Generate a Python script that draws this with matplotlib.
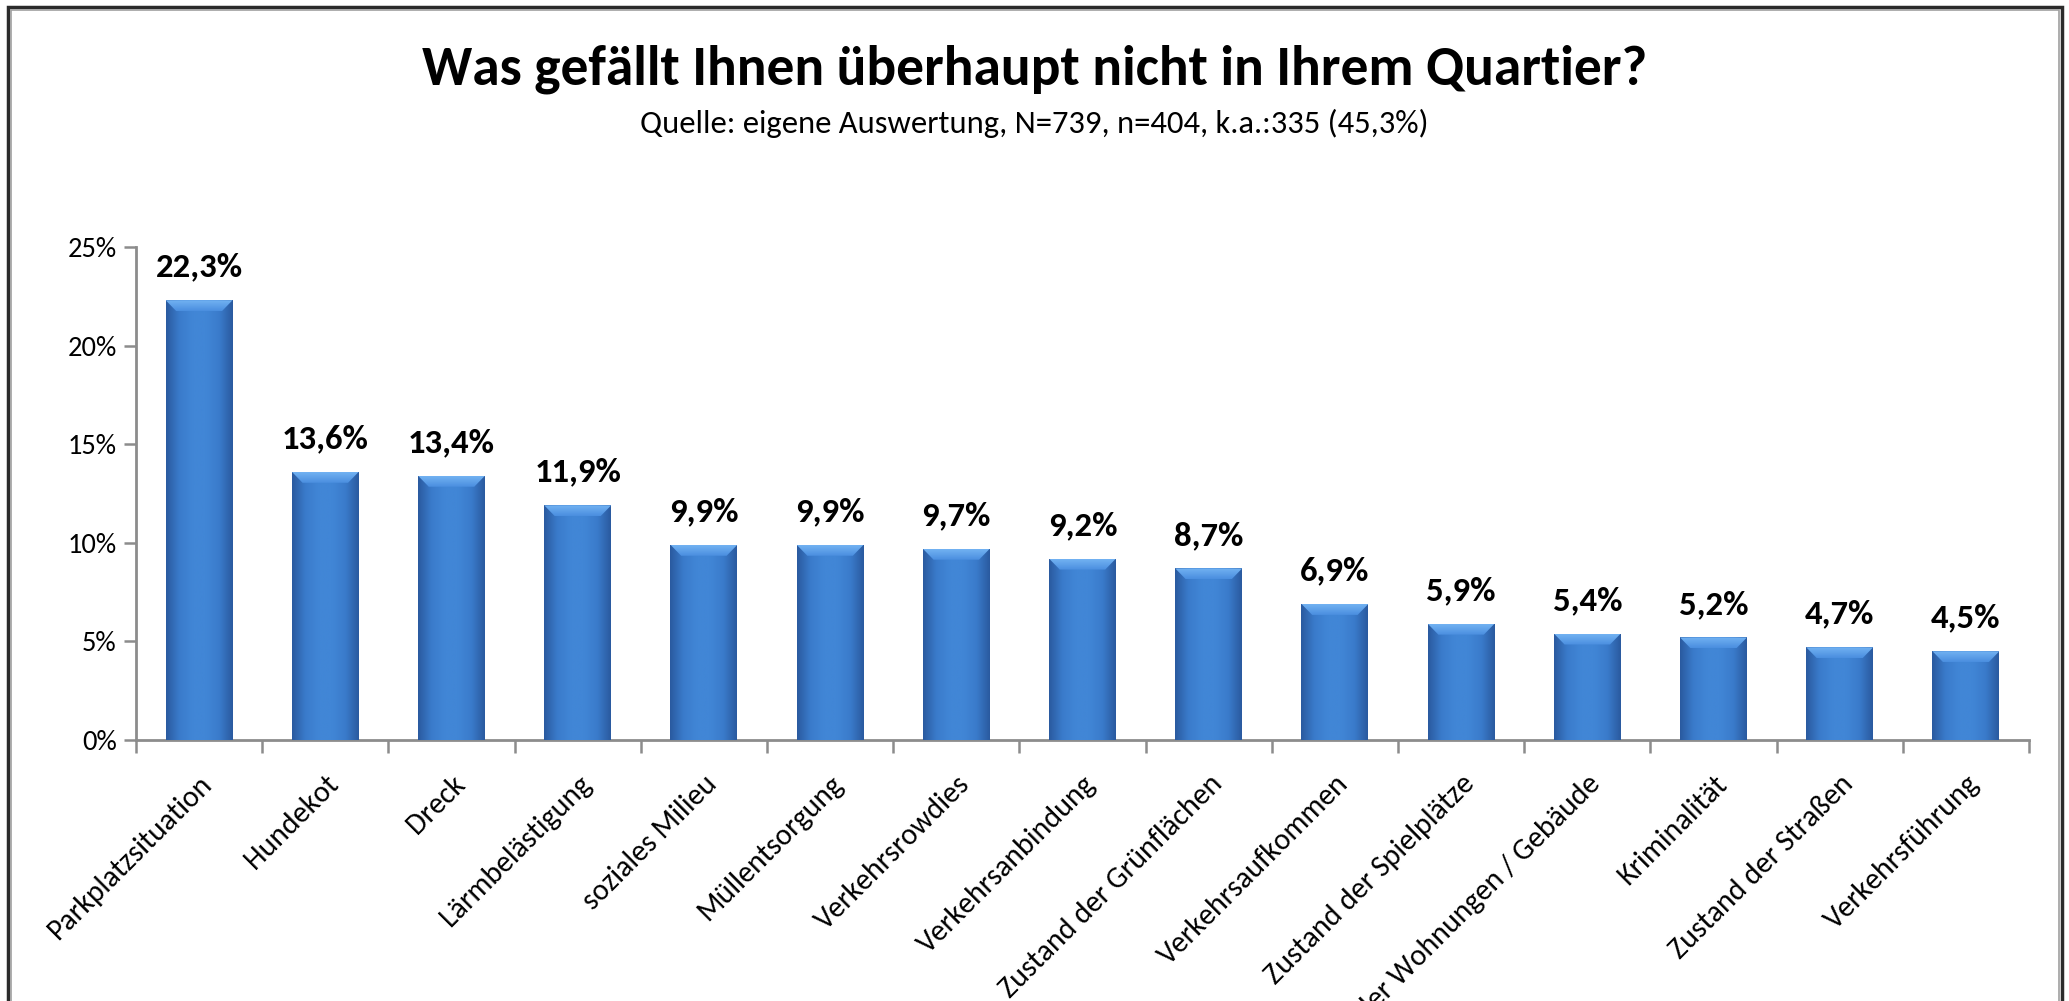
import matplotlib
matplotlib.use("Agg")
import numpy as np
import matplotlib.pyplot as plt
from matplotlib.patches import Rectangle, Polygon
from matplotlib.colors import LinearSegmentedColormap

plt.rcParams['font.family'] = ['Carlito', 'DejaVu Sans']

categories = ['Parkplatzsituation', 'Hundekot', 'Dreck', 'Lärmbelästigung', 'soziales Milieu',
              'Müllentsorgung', 'Verkehrsrowdies', 'Verkehrsanbindung', 'Zustand der Grünflächen',
              'Verkehrsaufkommen', 'Zustand der Spielplätze', 'Zustand der Wohnungen / Gebäude',
              'Kriminalität', 'Zustand der Straßen', 'Verkehrsführung']
values = [22.3, 13.6, 13.4, 11.9, 9.9, 9.9, 9.7, 9.2, 8.7, 6.9, 5.9, 5.4, 5.2, 4.7, 4.5]
yticks = [0, 5, 10, 15, 20, 25]

title = 'Was gefällt Ihnen überhaupt nicht in Ihrem Quartier?'
subtitle = 'Quelle: eigene Auswertung, N=739, n=404, k.a.:335 (45,3%)'

fig = plt.figure(figsize=(20.69, 10.01), dpi=100)
ax = fig.add_axes([136 / 2069, 261 / 1001, (2029 - 136) / 2069, 493 / 1001])

x = np.arange(len(values))
bw = 0.53
bars = ax.bar(x, values, width=bw, color='#3c7dcd', edgecolor='none', zorder=2)

# horizontal shading for a rounded look
body = LinearSegmentedColormap.from_list('body', ['#2a5a9f', '#3a7bcb', '#4186d6', '#4186d6', '#3a7bcb', '#2a5a9f'])
bevel = LinearSegmentedColormap.from_list('bevel', ['#4a8edf', '#72b2f2'])
grad = np.linspace(0, 1, 256).reshape(1, -1)
vgrad = np.linspace(0, 1, 64).reshape(-1, 1)
for r in bars:
    x0, w, h = r.get_x(), r.get_width(), r.get_height()
    im = ax.imshow(grad, cmap=body, aspect='auto', extent=(x0, x0 + w, 0, h), zorder=3)
    im.set_clip_path(r)
    # light bevel on top
    dy = 25 * 11 / 493
    dx = 0.085
    top = Polygon([(x0, h), (x0 + w, h), (x0 + w - dx, h - dy), (x0 + dx, h - dy)],
                  closed=True, facecolor='none', edgecolor='none', zorder=4)
    ax.add_patch(top)
    tim = ax.imshow(vgrad, cmap=bevel, aspect='auto', origin='lower',
                    extent=(x0, x0 + w, h - dy, h), zorder=4)
    tim.set_clip_path(top)
    ax.annotate(f'{h:.1f}%'.replace('.', ','), (x0 + w / 2, h), xytext=(0, 17),
                textcoords='offset points', ha='center', va='baseline',
                fontsize=25, fontweight='bold', color='black')

ax.set_xlim(-0.5, len(values) - 0.5)
ax.set_ylim(0, 25)
ax.set_yticks(yticks)
ax.set_yticklabels([f'{v}%' for v in yticks], fontsize=20.5)
ax.set_xticks(x)
ax.set_xticklabels(categories, rotation=45, ha='right', va='top', rotation_mode='anchor', fontsize=21.5)
ax.tick_params(axis='x', length=0, pad=22)
ax.set_xticks(np.arange(len(values) + 1) - 0.5, minor=True)
ax.tick_params(axis='x', which='minor', length=9, width=1.8, color='#8c8c8c', direction='out')
ax.tick_params(axis='y', length=9, width=1.8, color='#8c8c8c', direction='out', pad=5)

for s in ['top', 'right']:
    ax.spines[s].set_visible(False)
for s in ['left', 'bottom']:
    ax.spines[s].set_color('#8c8c8c')
    ax.spines[s].set_linewidth(2)

fig.text(0.5, 1 - 69 / 1001, title, ha='center', va='center', fontsize=40, fontweight='bold')
fig.text(0.5, 1 - 123 / 1001, subtitle, ha='center', va='center', fontsize=23.5)

# outer frame of the chart area
fig.patches.append(Rectangle((8 / 2069, -0.1), (2062 - 8) / 2069, 1.1 - 7 / 1001,
                             transform=fig.transFigure, fill=False, edgecolor='#2b2b2b', linewidth=2.5))
fig.patches.append(Rectangle((11 / 2069, -0.1), (2059 - 11) / 2069, 1.1 - 10 / 1001,
                             transform=fig.transFigure, fill=False, edgecolor='#a0a0a0', linewidth=1.2))

fig.savefig('out.png', dpi=100)
